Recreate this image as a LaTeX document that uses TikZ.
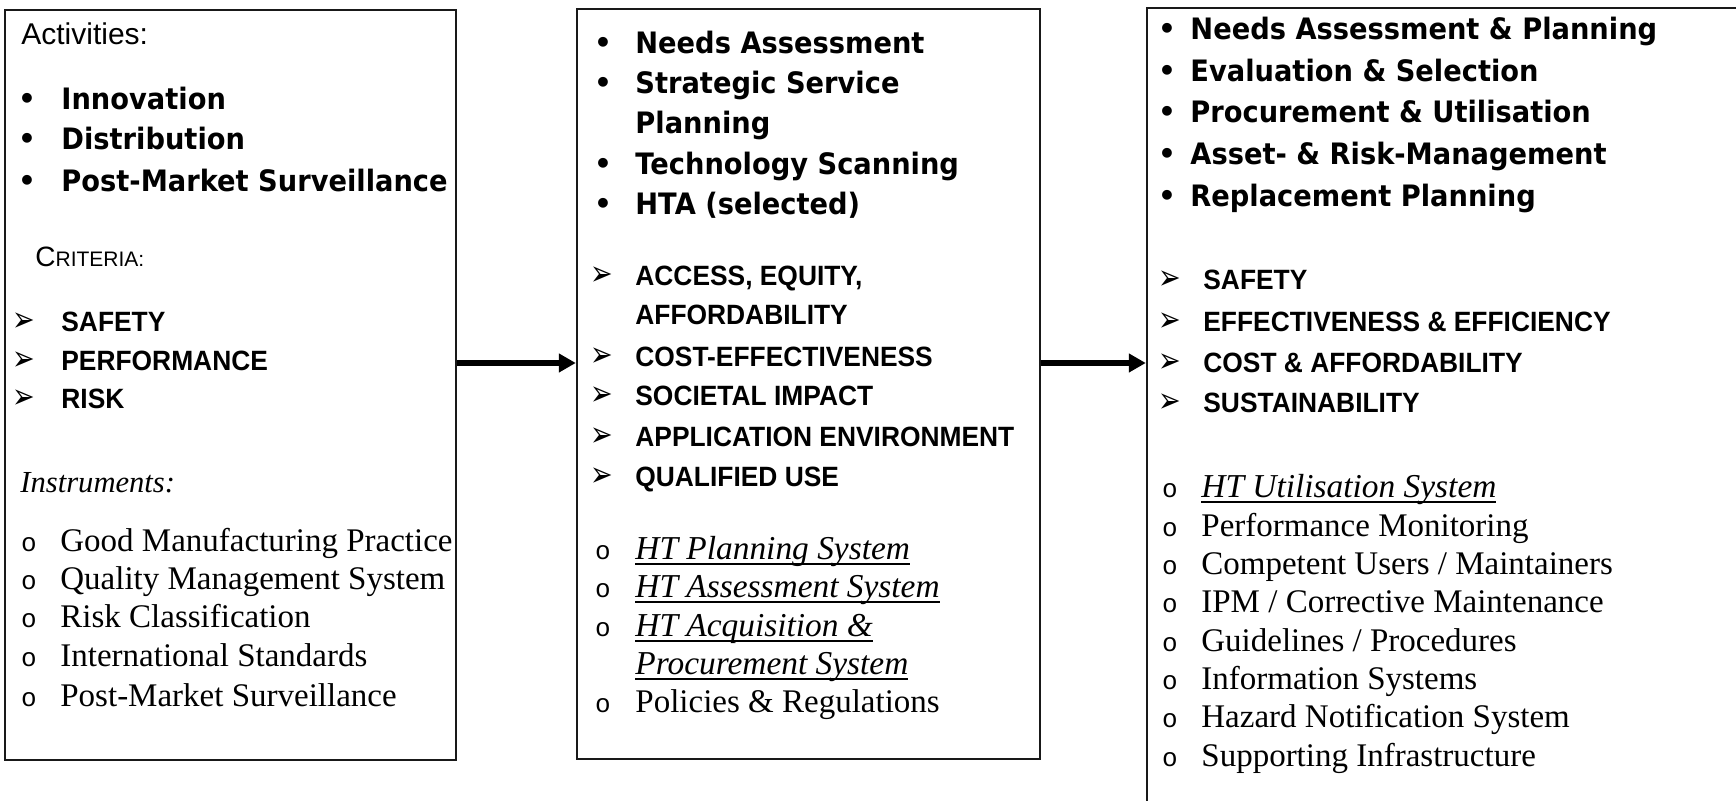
\documentclass[tikz,border=0pt]{standalone}
\usepackage{fontspec}
\setmainfont{Liberation Serif}
\newfontfamily\hfont{DejaVu Sans}[FakeStretch=0.925]
\newfontfamily\dfont{DejaVu Sans}
\newfontfamily\afont{Liberation Sans}
\newfontfamily\cfont{Liberation Sans}[FakeStretch=0.945]
\newfontfamily\mfont{Liberation Mono}
\usetikzlibrary{arrows.meta}
\newcommand\mytul[1]{\setbox0\hbox{#1}\rlap{\raisebox{-2.4pt}{\rule{\wd0}{0.65pt}}}\box0}
\newcommand\critglyph{\scalebox{1}[1.3]{➢}}
\tikzset{
  boxstyle/.style={draw=black!90, line width=1.2pt, fill=white, inner sep=0pt},
  headtxt/.style={anchor=base west, inner sep=0pt, font=\hfont\bfseries\fontsize{14.75pt}{17pt}\selectfont},
  crittxt/.style={anchor=base west, inner sep=0pt, font=\cfont\bfseries\fontsize{13.95pt}{16pt}\selectfont},
  insttxt/.style={anchor=base west, inner sep=0pt, font=\fontsize{16.5pt}{19pt}\selectfont},
  itltxt/.style={anchor=base west, inner sep=0pt, font=\itshape\fontsize{16.7pt}{19pt}\selectfont},
  dotbul/.style={anchor=base, inner sep=0pt, font=\afont\bfseries\fontsize{17pt}{19pt}\selectfont},
  arrbul/.style={anchor=center, inner sep=0pt, font=\dfont\fontsize{13.5pt}{15pt}\selectfont},
  circbul/.style={anchor=base, inner sep=0pt, font=\mfont\fontsize{13pt}{15pt}\selectfont},
  flowarrow/.style={line width=2.6pt, -{Triangle[length=8.5pt,width=9pt]}},
}
\begin{document}
\begin{tikzpicture}[x=0.5pt,y=-0.5pt]
\useasboundingbox (0,0) rectangle (1736,801);
\clip (0,0) rectangle (1736,801);
\fill[white] (0,0) rectangle (1736,801);

% boxes
\node[boxstyle, minimum width=225.5pt, minimum height=375pt] (box1) at (230.5,385) {};
\node[boxstyle, minimum width=231.5pt, minimum height=375pt] (box2) at (808.5,384) {};
\node[boxstyle, minimum width=330pt, minimum height=425pt] (box3) at (1477,433) {};

% arrows
\coordinate (arrowlevel) at (0,363);
\draw[flowarrow] (box1.east |- arrowlevel) -- (box2.west |- arrowlevel);
\draw[flowarrow] (box2.east |- arrowlevel) -- (box3.west |- arrowlevel);

% ---------- box 1 ----------
\node[anchor=base west, inner sep=0pt, font=\afont\fontsize{15pt}{18pt}\selectfont] (b1act) at (21,45) {Activities:};
\node[dotbul] (b1d1) at (27,110) {•};
\node[headtxt] (b1h1) at (61,110) {Innovation};
\node[dotbul] (b1d2) at (27,150) {•};
\node[headtxt] (b1h2) at (61,150) {Distribution};
\node[dotbul] (b1d3) at (27,192) {•};
\node[headtxt] (b1h3) at (61,192) {Post-Market Surveillance};
\node[anchor=base west, inner sep=0pt, font=\afont] (b1crit) at (35,267) {\fontsize{14pt}{16pt}\selectfont C\fontsize{10.5pt}{12pt}\selectfont RITERIA:};
\node[arrbul] (b1a1) at (24,322.5) {\critglyph};
\node[crittxt] (b1c1) at (61,332) {SAFETY};
\node[arrbul] (b1a2) at (24,361.5) {\critglyph};
\node[crittxt] (b1c2) at (61,371) {PERFORMANCE};
\node[arrbul] (b1a3) at (24,399.5) {\critglyph};
\node[crittxt] (b1c3) at (61,409) {RISK};
\node[anchor=base west, inner sep=0pt, font=\itshape\fontsize{15.3pt}{18pt}\selectfont] (b1ins) at (20,493) {Instruments:};
\node[circbul] (b1o1) at (29,552) {o};
\node[insttxt] (b1i1) at (60,552) {Good Manufacturing Practice};
\node[circbul] (b1o2) at (29,590) {o};
\node[insttxt] (b1i2) at (60,590) {Quality Management System};
\node[circbul] (b1o3) at (29,628) {o};
\node[insttxt] (b1i3) at (60,628) {Risk Classification};
\node[circbul] (b1o4) at (29,667) {o};
\node[insttxt] (b1i4) at (60,667) {International Standards};
\node[circbul] (b1o5) at (29,707) {o};
\node[insttxt] (b1i5) at (60,707) {Post-Market Surveillance};

% ---------- box 2 ----------
\node[dotbul] (b2d1) at (603,54) {•};
\node[headtxt] (b2h1) at (635,54) {Needs Assessment};
\node[dotbul] (b2d2) at (603,94) {•};
\node[headtxt] (b2h2) at (635,94) {Strategic Service};
\node[headtxt] (b2h2b) at (635,134) {Planning};
\node[dotbul] (b2d3) at (603,175) {•};
\node[headtxt] (b2h3) at (635,175) {Technology Scanning};
\node[dotbul] (b2d4) at (603,215) {•};
\node[headtxt] (b2h4) at (635,215) {HTA (selected)};
\node[arrbul] (b2a1) at (602,276.5) {\critglyph};
\node[crittxt] (b2c1) at (635,286) {ACCESS, EQUITY,};
\node[crittxt] (b2c1b) at (635,325) {AFFORDABILITY};
\node[arrbul] (b2a2) at (602,357.5) {\critglyph};
\node[crittxt] (b2c2) at (635,367) {COST-EFFECTIVENESS};
\node[arrbul] (b2a3) at (602,396.5) {\critglyph};
\node[crittxt] (b2c3) at (635,406) {SOCIETAL IMPACT};
\node[arrbul] (b2a4) at (602,437.5) {\critglyph};
\node[crittxt] (b2c4) at (635,447) {APPLICATION ENVIRONMENT};
\node[arrbul] (b2a5) at (602,477.5) {\critglyph};
\node[crittxt] (b2c5) at (635,487) {QUALIFIED USE};
\node[circbul] (b2o1) at (603,560) {o};
\node[itltxt] (b2i1) at (635,560) {\mytul{HT Planning System}};
\node[circbul] (b2o2) at (603,598) {o};
\node[itltxt] (b2i2) at (635,598) {\mytul{HT Assessment System}};
\node[circbul] (b2o3) at (603,637) {o};
\node[itltxt] (b2i3) at (635,637) {\mytul{HT Acquisition \&}};
\node[itltxt] (b2i3b) at (635,675) {\mytul{Procurement System}};
\node[circbul] (b2o4) at (603,713) {o};
\node[insttxt] (b2i4) at (635,713) {Policies \& Regulations};

% ---------- box 3 ----------
\node[dotbul] (b3d1) at (1167,40) {•};
\node[headtxt] (b3h1) at (1190,40) {Needs Assessment \& Planning};
\node[dotbul] (b3d2) at (1167,82) {•};
\node[headtxt] (b3h2) at (1190,82) {Evaluation \& Selection};
\node[dotbul] (b3d3) at (1167,123) {•};
\node[headtxt] (b3h3) at (1190,123) {Procurement \& Utilisation};
\node[dotbul] (b3d4) at (1167,165) {•};
\node[headtxt] (b3h4) at (1190,165) {Asset- \& Risk-Management};
\node[dotbul] (b3d5) at (1167,207) {•};
\node[headtxt] (b3h5) at (1190,207) {Replacement Planning};
\node[arrbul] (b3a1) at (1170,280.5) {\critglyph};
\node[crittxt] (b3c1) at (1203,290) {SAFETY};
\node[arrbul] (b3a2) at (1170,322.5) {\critglyph};
\node[crittxt] (b3c2) at (1203,332) {EFFECTIVENESS \& EFFICIENCY};
\node[arrbul] (b3a3) at (1170,363.5) {\critglyph};
\node[crittxt] (b3c3) at (1203,373) {COST \& AFFORDABILITY};
\node[arrbul] (b3a4) at (1170,403.5) {\critglyph};
\node[crittxt] (b3c4) at (1203,413) {SUSTAINABILITY};
\node[circbul] (b3o1) at (1170,498) {o};
\node[itltxt] (b3i1) at (1201,498) {\mytul{HT Utilisation System}};
\node[circbul] (b3o2) at (1170,537) {o};
\node[insttxt] (b3i2) at (1201,537) {Performance Monitoring};
\node[circbul] (b3o3) at (1170,575) {o};
\node[insttxt] (b3i3) at (1201,575) {Competent Users / Maintainers};
\node[circbul] (b3o4) at (1170,613) {o};
\node[insttxt] (b3i4) at (1201,613) {IPM / Corrective Maintenance};
\node[circbul] (b3o5) at (1170,652) {o};
\node[insttxt] (b3i5) at (1201,652) {Guidelines / Procedures};
\node[circbul] (b3o6) at (1170,690) {o};
\node[insttxt] (b3i6) at (1201,690) {Information Systems};
\node[circbul] (b3o7) at (1170,728) {o};
\node[insttxt] (b3i7) at (1201,728) {Hazard Notification System};
\node[circbul] (b3o8) at (1170,767) {o};
\node[insttxt] (b3i8) at (1201,767) {Supporting Infrastructure};
\end{tikzpicture}
\end{document}
